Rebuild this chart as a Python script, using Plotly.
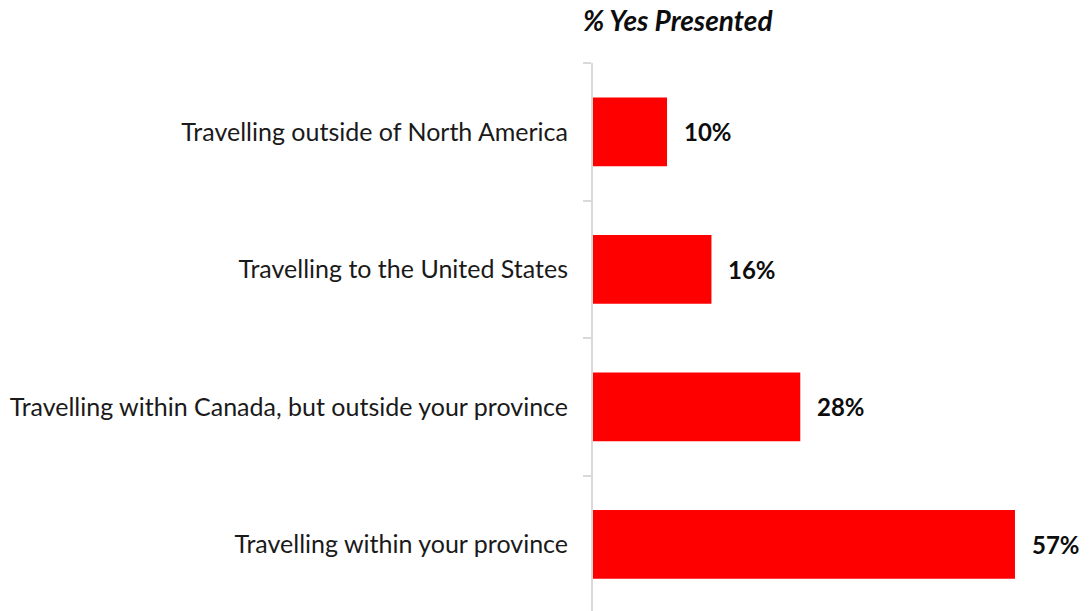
import plotly.graph_objects as go

categories = [
    "Travelling within your province",
    "Travelling within Canada, but outside your province",
    "Travelling to the United States",
    "Travelling outside of North America",
]
values = [57, 28, 16, 10]
value_labels = [f"{v}%" for v in values]

fig = go.Figure()
fig.add_trace(go.Bar(
    x=values,
    y=categories,
    orientation="h",
    width=0.5,
    marker=dict(color="#FF0000", line=dict(width=0)),
    hoverinfo="skip",
))

# value labels to the right of each bar
for v, c, t in zip(values, categories, value_labels):
    fig.add_annotation(
        x=v, y=c, text=f"<b>{t}</b>", showarrow=False,
        xanchor="left", xshift=15,
        font=dict(family="Lato", size=24, color="#0d0d0d"),
    )

# chart heading above the bars
fig.add_annotation(
    xref="paper", yref="paper", x=(678 - 593) / 496, y=1 + (63 - 20) / 548,
    text="<b><i>% Yes Presented</i></b>",
    showarrow=False, xanchor="center", yanchor="middle",
    font=dict(family="Lato", size=28, color="#0d0d0d"),
)

fig.update_layout(
    width=1089, height=611,
    margin=dict(l=593, r=0, t=63, b=0),
    paper_bgcolor="white", plot_bgcolor="white",
    showlegend=False,
    xaxis=dict(range=[0, 67.0], visible=False, fixedrange=True),
    yaxis=dict(
        type="category",
        range=[-0.485, 3.5],
        showline=True, linecolor="#D9D9D9", linewidth=2,
        ticks="outside", tickson="boundaries", ticklen=8, tickwidth=2,
        tickcolor="#D9D9D9", showgrid=False, zeroline=False,
        ticklabelstandoff=18,
        tickfont=dict(family="Lato", size=25, color="#1a1a1a"),
        fixedrange=True,
    ),
)

fig.write_html("out.html")
